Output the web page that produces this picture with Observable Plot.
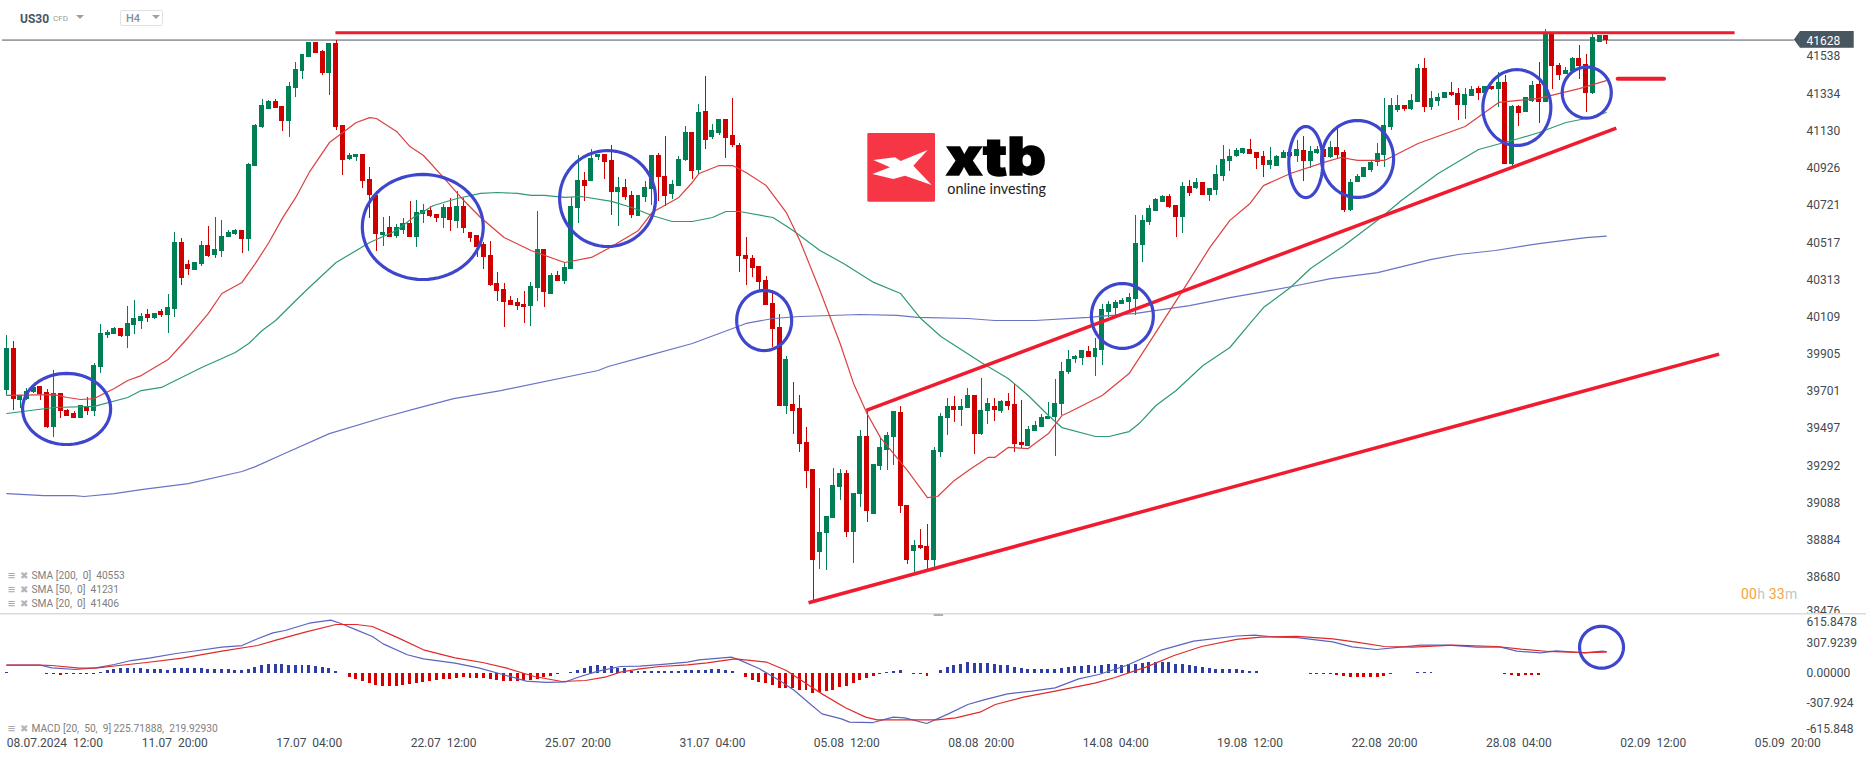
<!DOCTYPE html>
<html>
<head>
<meta charset="utf-8">
<script src="https://cdn.jsdelivr.net/npm/d3@7"></script>
<script src="https://cdn.jsdelivr.net/npm/@observablehq/plot@0.6"></script>
<style>
html,body{margin:0;padding:0;background:#fff;overflow:hidden;}
#wrap{position:relative;width:1866px;height:759px;font-family:Roboto,sans-serif;}
#wrap svg{display:block;}
.ov{position:absolute;white-space:nowrap;}
.tri{position:absolute;width:0;height:0;border-left:4px solid transparent;border-right:4px solid transparent;border-top:4px solid #a0a0a0;}
</style>
</head>
<body>
<div id="wrap"></div>
<script>
const opens=[39706,39935,39652,39657,39694,39728,39694,39505,39688,39597,
39578,39555,39617,39593,39834,40010,40015,40045,40004,40065,
40087,40123,40103,40140,40120,40152,40516,40397,40364,40397,
40500,40447,40469,40545,40560,40584,40534,40936,41147,41247,
41291,41264,41181,41362,41456,41532,41615,41565,41445,41609,
41159,40971,40984,41000,40863,40776,40556,40600,40551,40584,
40622,40545,40671,40693,40671,40649,40710,40633,40715,40573,
40556,40507,40447,40293,40260,40200,40189,40178,40167,40266,
40478,40233,40337,40304,40370,40704,40858,40852,40984,41001,
40968,40792,40820,40776,40660,40765,40809,40995,40880,40781,
40825,40968,41121,40913,41236,41094,41116,41192,41105,41050,
40447,40430,40386,40310,40183,40052,39619,39630,39608,39421,
39273,38818,38922,39004,39174,39251,38928,39136,39454,39026,
39290,39377,39449,39586,39076,38824,38856,38851,38774,39366,
39553,39619,39597,39608,39679,39465,39591,39619,39591,39646,
39630,39421,39399,39482,39504,39547,39558,39630,39805,39876,
39882,39920,39887,39926,40134,40156,40178,40189,40205,40501,
40627,40688,40737,40770,40720,40655,40825,40814,40847,40775,
40803,40879,40962,40989,41006,41028,41011,40989,40940,40934,
40978,41011,40989,41022,40962,41006,41028,40984,41039,41011,
40693,40847,40874,40912,40956,40995,41148,41241,41269,41247,
41285,41472,41258,41291,41307,41340,41335,41269,41318,41362,
41335,41373,41357,41395,40945,41263,41230,41291,41384,41285,
41662,41488,41439,41455,41527,41494,41335,41615,41653];
const highs=[40008,39975,39679,39716,39734,39728,39710,39816,39688,39602,
39591,39624,39666,39853,40068,40035,40050,40045,40167,40200,
40131,40149,40131,40151,40233,40571,40538,40419,40406,40522,
40604,40653,40639,40584,40589,40584,40951,41165,41302,41297,
41302,41264,41395,41505,41549,41615,41615,41571,41609,41626,
41159,41004,41000,41000,40929,40798,40655,40660,40617,40649,
40743,40748,40726,40715,40671,40726,40759,40798,40759,40573,
40556,40518,40523,40353,40291,40222,40211,40249,40299,40688,
40478,40348,40359,40408,40765,40995,40902,41028,41001,41001,
41050,40874,40863,40798,40776,40852,40995,41006,41099,40858,
40990,41154,41121,41275,41428,41165,41192,41192,41308,41061,
40545,40447,40386,40331,40255,40123,39893,39750,39679,39504,
39273,39169,39015,39279,39273,39268,39142,39487,39597,39301,
39443,39476,39591,39619,39076,38884,38944,38972,39394,39580,
39663,39674,39657,39717,39679,39772,39663,39663,39652,39690,
39739,39652,39509,39536,39575,39641,39767,39860,39926,39898,
39926,39948,39992,40178,40194,40199,40210,40238,40666,40666,
40720,40759,40775,40781,40720,40847,40858,40869,40847,40814,
40940,41049,41028,41033,41033,41082,41011,41017,41039,40995,
41022,41011,41077,41099,41044,41044,41028,41071,41143,41022,
40863,40890,40929,40967,41060,41307,41307,41324,41269,41329,
41494,41527,41346,41335,41340,41395,41362,41362,41373,41373,
41373,41373,41450,41433,41269,41269,41313,41400,41505,41686,
41662,41499,41477,41532,41598,41549,41658,41653,41653];
const lows=[39679,39597,39606,39652,39688,39652,39498,39451,39555,39564,
39555,39555,39569,39564,39801,39993,40014,39999,39939,40015,
40041,40081,40094,40109,40021,40108,40282,40337,40364,40386,
40436,40430,40437,40545,40554,40458,40469,40936,41143,41247,
41253,41127,41094,41313,41412,41532,41554,41434,41324,41132,
40885,40968,40962,40814,40649,40469,40496,40545,40540,40562,
40545,40490,40622,40655,40628,40595,40578,40595,40567,40518,
40436,40370,40277,40194,40054,40172,40145,40074,40057,40194,
40161,40233,40304,40288,40370,40622,40743,40852,40968,40863,
40666,40606,40748,40650,40660,40737,40721,40743,40715,40754,
40825,40962,40863,40891,41028,41083,41105,40979,41039,40353,
40282,40326,40249,40172,39944,39619,39575,39465,39366,39169,
38546,38725,38719,39004,39103,38900,38758,39065,38983,39026,
39268,39268,39295,39032,38752,38708,38834,38725,38736,39339,
39460,39531,39509,39608,39355,39460,39520,39536,39580,39597,
39366,39388,39399,39482,39504,39547,39344,39569,39794,39855,
39844,39887,39783,39844,40106,40117,40178,40145,40117,40408,
40611,40688,40737,40704,40545,40567,40770,40808,40775,40742,
40775,40852,40907,40984,41000,41000,40918,40874,40918,40934,
40978,40984,40956,40852,40923,41000,40984,40978,40973,40682,
40688,40847,40874,40901,40934,40929,41132,41230,41236,41241,
41285,41230,41241,41263,41307,41318,41187,41192,41318,41296,
41329,41351,41258,40945,40934,41154,41230,41285,41170,41285,
41357,41406,41439,41455,41411,41230,41329,41615,41604];
const closes=[39935,39657,39679,39701,39721,39684,39502,39688,39591,39566,
39555,39624,39591,39844,40017,40023,40046,40004,40072,40099,
40112,40103,40131,40116,40162,40516,40322,40370,40406,40500,
40441,40478,40549,40571,40584,40534,40947,41159,41267,41291,
41253,41181,41372,41467,41549,41615,41554,41445,41609,41149,
40968,40995,41000,40852,40776,40562,40573,40545,40600,40622,
40545,40682,40693,40660,40649,40710,40639,40715,40595,40540,
40490,40436,40282,40249,40189,40172,40167,40161,40277,40478,
40244,40337,40304,40381,40715,40858,40825,40979,41001,40957,
40792,40820,40765,40666,40776,40820,40995,40874,40770,40836,
40973,41121,40907,41231,41077,41132,41192,41088,41050,40441,
40425,40375,40299,40172,40041,39619,39876,39591,39410,39262,
38774,38928,39015,39185,39251,38928,39142,39454,39043,39301,
39394,39460,39591,39070,38774,38856,38840,38774,39377,39564,
39619,39597,39619,39679,39465,39597,39635,39597,39646,39619,
39410,39405,39493,39514,39558,39564,39635,39811,39876,39893,
39926,39887,39937,40151,40178,40189,40199,40216,40512,40638,
40704,40753,40770,40709,40655,40825,40786,40847,40775,40814,
40890,40973,40989,41022,41033,41000,40978,40940,40967,40989,
41011,40989,41028,40962,41017,41028,40984,41039,40995,40693,
40847,40879,40929,40956,41006,41159,41269,41269,41247,41296,
41472,41258,41307,41313,41340,41324,41269,41329,41357,41335,
41373,41357,41395,40945,41263,41225,41313,41379,41285,41662,
41483,41433,41461,41527,41483,41335,41642,41653,41628];

const sma20Bar=[0,7,9,11,13,16,18,20,24,27,30,32,35,37,39,41,43,45,48,50,52,54,55,58,60,62,65,68,70.5,74,78,83,87,89.5,94,96,100,102,103,106,108,110,113,116,118,121,124,126,128,130,134,137,138.5,141,143.5,146,147,149,152,155,157,158,163,167,170,175,179,182,185,187,191,196,198.5,201,205,210,217,222,228,234,238];
const sma20Val=[39679,39684,39668,39657,39662,39717,39761,39788,39876,39997,40129,40238,40299,40403,40518,40650,40765,40902,41066,41121,41176,41203,41198,41127,41044,40995,40874,40748,40655,40545,40474,40408,40436,40485,40584,40682,40765,40847,40896,40940,40940,40902,40830,40682,40529,40255,39964,39745,39580,39448,39268,39119,39125,39213,39278,39339,39339,39394,39388,39470,39569,39586,39679,39799,39969,40255,40490,40639,40732,40830,40896,40957,40984,40968,40968,41061,41154,41286,41308,41362,41406];
const sma50Bar=[0,7,13,18,20,23,26,29,34,36,38,40,43,45,49,50,54,58,60.5,63.5,67,70.5,73,76,78,80,83,85.5,90,93,96,99,102,105,107,109,114,117,121,124.5,129,133,136,139,145,149,152,155,157,162,164,167,168.5,171,174,178,182,185,187,191,194,199,204.5,207.5,213,219,225,228,232,235,238];
const sma50Val=[39580,39613,39619,39668,39706,39723,39778,39832,39915,39964,40035,40090,40200,40271,40408,40430,40518,40584,40655,40721,40759,40787,40792,40787,40776,40776,40765,40770,40743,40710,40666,40633,40633,40655,40688,40688,40655,40584,40474,40403,40299,40238,40101,40002,39860,39772,39679,39569,39503,39454,39454,39481,39525,39624,39706,39843,39942,40074,40161,40271,40375,40501,40655,40748,40896,41028,41088,41121,41176,41198,41231];
const sma200Bar=[0,5.5,10,11.5,16,20,27,35,37,41,48,56,61,66.5,73.5,88,89.5,95,102,108,110,114,118,127,132.5,135.5,143,147,153,161,168,176,182,186.5,192,197,204,212,216,221.5,228,235,238];
const sma200Val=[39141,39130,39130,39125,39141,39163,39196,39262,39289,39355,39470,39558,39608,39662,39706,39816,39838,39893,39964,40046,40074,40101,40112,40123,40118,40107,40101,40090,40090,40107,40129,40172,40216,40244,40282,40320,40353,40425,40452,40474,40512,40545,40553];

const macdBar=[0,5,6.7,10.2,13.2,16,18.5,21.4,25.2,28.5,32,35,37.3,39.6,41.4,45,48.2,49.6,52,54.4,56,59.6,62,66.7,70.2,73.8,77.3,80.2,83.2,85,88,91.3,94.2,97.2,101.3,103,107.8,109,112,115,117.2,119.5,121.3,124.2,125.4,128.9,131.9,133.6,136.9,140.1,143,145.4,148.9,152.5,156,159.5,162.5,166.6,171.9,176.6,183,185.7,188.9,192,197.3,200.2,203.8,207.4,210.4,214.5,218.7,222.3,224.7,228.2,230.6,234.8,237.4,238];
const macdVal=[85,85,58,41,58,92,133,161,205,236,270,287,356,417,441,516,547,516,448,380,304,192,150,106,58,-10,-79,-92,-85,-38,24,72,75,92,116,140,168,140,48,-72,-174,-311,-414,-465,-499,-503,-448,-455,-513,-414,-318,-270,-209,-181,-147,-55,-10,82,243,332,385,393,373,369,325,274,246,270,291,291,270,270,229,212,233,212,229,225.7];
const signalBar=[0,5,6.7,10.8,13.2,16.7,20.8,26.1,32,37.3,40.2,44.4,49,52,54.4,58,62,66.7,70.8,74.4,78.5,82.6,86.1,89,91.3,94.2,97.2,101.3,104.2,108.4,113.1,116,119,121.3,124.8,127.8,129.5,138.4,141.2,144.8,147.1,151.3,156,161.9,164.8,169.5,173.7,177.8,183,186.6,192,197.3,200.8,205,209.2,215.2,221.7,225.3,229.4,234.8,238];
const signalVal=[85,85,82,55,55,82,113,157,229,287,345,424,503,503,482,373,243,161,113,55,-31,-82,-72,-38,14,48,72,89,109,150,116,31,-106,-209,-352,-448,-475,-475,-455,-397,-318,-243,-181,-99,-44,65,185,277,350,373,380,356,321,277,270,291,277,250,226,215,220];
const macdHist=[14,0,0,0,0,0,-7,-7,-17,-14,
-14,-14,-14,-7,10,31,41,48,51,51,
48,41,41,41,34,51,51,51,51,51,
44,41,41,41,31,31,41,65,82,92,
92,92,85,82,82,82,72,62,51,24,
-3,-44,-62,-82,-99,-127,-133,-133,-133,-123,
-113,-106,-92,-82,-72,-62,-58,-51,-44,-51,
-51,-51,-65,-72,-82,-82,-82,-72,-72,-58,
-44,-31,-10,-3,7,31,51,72,82,75,
72,48,51,24,21,21,21,21,21,17,
24,27,31,34,34,41,41,34,21,-3,
-41,-72,-89,-99,-123,-150,-157,-157,-174,-174,
-202,-195,-188,-178,-147,-133,-99,-72,-48,-31,
-10,10,24,31,0,-7,-10,-31,0,31,
58,79,96,113,103,99,99,89,82,82,
62,51,41,41,41,41,41,51,62,72,
72,82,72,82,92,92,82,92,92,103,
113,113,113,113,92,92,82,72,62,51,
41,41,41,41,27,24,20,3,0,0,
-5,-5,-5,-5,-10,-14,-14,-14,-17,-34,
-41,-44,-44,-41,-38,-34,-10,0,3,3,
14,14,10,3,3,0,0,-3,-3,-3,
-3,-3,-3,-14,-17,-27,-24,-20,-20,-5,
0,0,0,0,0,-5,0,0,3];

const priceTicks=[41538,41334,41130,40926,40721,40517,40313,40109,39905,39701,39497,39292,39088,38884,38680];
const macdTicks=[307.9239,0,-307.924];
const macdTickLabels=new Map([[307.9239,"307.9239"],[0,"0.00000"],[-307.924,"-307.924"]]);
const timeTickBars=[25,45,65,85,105,125,145,165,185,205,225,245,265];
const timeTickLabels=["11.07  20:00","17.07  04:00","22.07  12:00","25.07  20:00","31.07  04:00","05.08  12:00","08.08  20:00","14.08  04:00","19.08  12:00","22.08  20:00","28.08  04:00","02.09  12:00","05.09  20:00"].map(s=>s.replace(/ /g,"\u00a0"));
const smaLegend=["SMA [200,\u00a0 0]\u00a0 40553","SMA [50,\u00a0 0]\u00a0 41231","SMA [20,\u00a0 0]\u00a0 41406"];
const smaLegendY=[38692,38615,38538];

const trendLines=[
 {id:"top",x:[48.9,257.1],y:[41668,41668],w:3},
 {id:"small",x:[239.7,246.6],y:[41416,41416],w:4},
 {id:"upper",x:[127.9,239.5],y:[39597,41145],w:3.5},
 {id:"lower",x:[119.3,254.8],y:[38542,39906],w:3.5}
];
const circleCx=[8.9,61.9,89.4,112.7,166,193.3,201,224.7,235.1];
const circleRx=[6.55,9,7.14,4.09,4.61,2.53,5.36,5.06,3.65];
const circleCy=[39605,40603,40759,40090,40115,40959,40976,41258,41340];
const circleRy=[195,288,263,165,178,195,211,208,140];

const GREEN="#007f55",RED="#cf0000",LINEBLUE="#3d46cc",TREND="#ee1c2e",AXIS="#444b50",GREY="#808080";
const candles=opens.map((o,i)=>({i,o,h:highs[i],l:lows[i],c:closes[i],up:closes[i]>=o}));
function ring(cx,rx,cy,ry,id){
  return d3.range(0,73).map(k=>{const a=k/72*2*Math.PI;return {id,x:cx+rx*Math.cos(a),y:cy+ry*Math.sin(a)};});
}
const rings=circleCx.flatMap((c,k)=>ring(c,circleRx[k],circleCy[k],circleRy[k],k));
const trendPts=trendLines.flatMap(t=>t.x.map((x,k)=>({id:t.id,x,y:t.y[k],w:t.w})));
const xDomain=[-0.9375,267.8];

const pricePlot=Plot.plot({
  width:1866,height:613,marginLeft:0,marginRight:60,marginTop:0,marginBottom:0,
  style:{fontFamily:"Roboto,sans-serif",background:"transparent"},
  x:{domain:xDomain,axis:null},
  y:{domain:[38483.3,41845],axis:null},
  marks:[
    Plot.axisY(priceTicks,{anchor:"right",label:null,tickSize:0,tickPadding:0,tickFormat:d=>String(d),fontSize:12,color:AXIS}),
    Plot.text([38476],{x:[267.8],y:d=>d,text:d=>String(d),textAnchor:"start",dy:-4,fontSize:12,fill:AXIS}),
    Plot.ruleY([41628],{x1:-0.64,x2:266,stroke:"#4a5660",strokeWidth:1}),
    Plot.areaY([{x:266,a:41628,b:41628},{x:266.9,a:41675,b:41583}],{x:"x",y1:"a",y2:"b",fill:"#47565f"}),
    Plot.rect([0],{x1:[266.9],x2:[274.9],y1:[41583],y2:[41675],fill:"#47565f"}),
    Plot.text(["41628"],{x:[267.8],y:[41622],text:d=>d,textAnchor:"start",fontSize:12,fill:"#fff"}),
    Plot.ruleX(candles,{x:"i",y1:"l",y2:"h",stroke:d=>d.up?GREEN:RED,strokeWidth:1,shapeRendering:"crispEdges"}),
    Plot.rect(candles,{x1:d=>d.i-0.37,x2:d=>d.i+0.37,y1:"o",y2:"c",fill:d=>d.up?GREEN:RED,shapeRendering:"crispEdges"}),
    Plot.line(sma200Val,{x:sma200Bar,y:sma200Val,stroke:"#6a74c4",strokeWidth:1.2}),
    Plot.line(sma50Val,{x:sma50Bar,y:sma50Val,stroke:"#2f9a72",strokeWidth:1.2}),
    Plot.line(sma20Val,{x:sma20Bar,y:sma20Val,stroke:"#dc4040",strokeWidth:1.2}),
    Plot.line(trendPts.filter(d=>d.w===3),{x:"x",y:"y",z:"id",stroke:TREND,strokeWidth:3,strokeLinecap:"butt"}),
    Plot.line(trendPts.filter(d=>d.w===3.5),{x:"x",y:"y",z:"id",stroke:TREND,strokeWidth:3.5,strokeLinecap:"butt"}),
    Plot.line(trendPts.filter(d=>d.w===4),{x:"x",y:"y",z:"id",stroke:TREND,strokeWidth:4,strokeLinecap:"round"}),
    Plot.line(rings,{x:"x",y:"y",z:"id",stroke:LINEBLUE,strokeWidth:3.2,curve:"linear"}),
    Plot.text(smaLegend,{x:smaLegend.map(()=>3.68),y:smaLegendY,text:d=>d,textAnchor:"start",fontSize:10.2,fill:GREY}),
    Plot.text(smaLegend,{x:smaLegend.map(()=>0.7),y:smaLegendY,text:()=>"\u2261",fontSize:13,fontWeight:"bold",fill:"#aaa"}),
    Plot.text(smaLegend,{x:smaLegend.map(()=>2.6),y:smaLegendY,text:()=>"\u2716",fontSize:10,fill:"#b5b5b5"})
  ]
});

const ringM=ring(237.3,3.27,270,215,"m");
const LEGY=-563,TIMEY=-715;
const macdPlot=Plot.plot({
  width:1866,height:146,marginLeft:0,marginRight:60,marginTop:0,marginBottom:24,
  style:{fontFamily:"Roboto,sans-serif",background:"transparent"},
  x:{domain:xDomain,axis:null},
  y:{domain:[-636.1,615.6],axis:null},
  marks:[
    Plot.ruleY([612],{x1:-0.9375,x2:276.75,stroke:"#dcdcdc",strokeWidth:1.5}),
    Plot.ruleY([600],{x1:138,x2:139.4,stroke:"#b0b0b0",strokeWidth:2}),
    Plot.axisY(macdTicks,{anchor:"right",label:null,tickSize:0,tickPadding:0,tickFormat:d=>macdTickLabels.get(d),fontSize:12,color:AXIS}),
    Plot.text(["615.8478"],{x:[267.8],y:[615.6],text:d=>d,textAnchor:"start",dy:9,fontSize:12,fill:AXIS}),
    Plot.text(["-615.848"],{x:[267.8],y:[-615.848],text:d=>d,textAnchor:"start",dy:-4,fontSize:12,fill:AXIS}),
    Plot.rect(macdHist,{filter:d=>d!==0,x1:(d,i)=>i-0.22,x2:(d,i)=>i+0.22,y1:()=>0,y2:d=>d,fill:d=>d>0?"#2d3fa6":"#d40000",shapeRendering:"crispEdges"}),
    Plot.line(macdVal,{x:macdBar,y:macdVal,stroke:"#5a64bd",strokeWidth:1.2}),
    Plot.line(signalVal,{x:signalBar,y:signalVal,stroke:"#e02a2a",strokeWidth:1.2}),
    Plot.line(ringM,{x:"x",y:"y",stroke:LINEBLUE,strokeWidth:3.2}),
    Plot.text(["MACD [20,\u00a0 50,\u00a0 9] 225.71888,\u00a0 219.92930"],{x:[3.68],y:[LEGY],text:d=>d,textAnchor:"start",fontSize:10.2,fill:GREY}),
    Plot.text(["\u2261"],{x:[0.7],y:[LEGY],text:d=>d,fontSize:13,fontWeight:"bold",fill:"#aaa"}),
    Plot.text(["\u2716"],{x:[2.6],y:[LEGY],text:d=>d,fontSize:10,fill:"#b5b5b5"}),
    Plot.text(timeTickLabels,{x:timeTickBars,y:timeTickBars.map(()=>TIMEY),text:d=>d,fontSize:12,fill:AXIS}),
    Plot.text(["08.07.2024\u00a0\u00a012:00"],{x:[0],y:[TIMEY],text:d=>d,textAnchor:"start",fontSize:12,fill:AXIS})
  ]
});

const wrap=document.getElementById("wrap");
wrap.append(pricePlot,macdPlot);
wrap.insertAdjacentHTML("beforeend",`
<div class="ov" style="left:20px;top:11px;font-size:12px;font-weight:700;color:#4a5560;line-height:16px;">US30</div>
<div class="ov" style="left:53px;top:14px;font-size:8px;color:#9a9a9a;line-height:10px;">CFD</div>
<div class="tri" style="left:76px;top:15px;"></div>
<div class="ov" style="left:120px;top:10px;width:43px;height:16px;box-sizing:border-box;border:1px solid #e2e2e2;border-radius:2px;"></div>
<div class="ov" style="left:126px;top:12px;font-size:11px;font-weight:500;color:#8a8f92;line-height:14px;">H4</div>
<div class="tri" style="left:152px;top:15px;"></div>
<div class="ov" style="left:1741px;top:586px;font-size:14px;line-height:16px;letter-spacing:.2px;color:#c4c4c4;"><span style="color:#f6a233">00</span>h <span style="color:#f6a233">33</span>m</div>
<svg class="ov" style="left:860px;top:125px;" width="200" height="85" viewBox="0 0 600 255">
  <rect x="22" y="24" width="203" height="206" rx="4" fill="#f63644"/>
  <polygon points="40,105 105,97 122,108 203,75 160,122 215,180 135,152 100,162 37,147 90,127" fill="#fff"/>
  <text x="258" y="150" font-family="Inter,Liberation Sans,sans-serif" font-weight="900" font-size="156" textLength="300" lengthAdjust="spacingAndGlyphs" fill="#000" stroke="#000" stroke-width="4">xtb</text>
  <text x="262" y="208" font-family="Lato,sans-serif" font-size="46" textLength="296" lengthAdjust="spacingAndGlyphs" fill="#222">online investing</text>
</svg>`);
</script>
</body>
</html>
